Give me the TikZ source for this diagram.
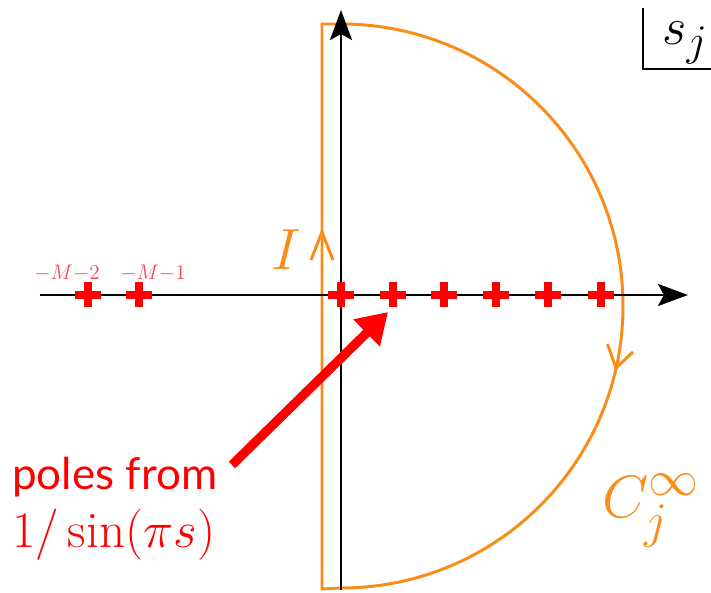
\documentclass[tikz,border=0pt]{standalone}
\usepackage{amsmath,amssymb}
\usepackage{fontspec}
\newfontfamily\polesfont{Lato}
\usetikzlibrary{arrows.meta, positioning, calc}
\definecolor{contourorange}{RGB}{250,140,25}
\definecolor{polered}{RGB}{255,0,0}
\definecolor{polelabel}{RGB}{238,72,82}

\begin{document}
\begin{tikzpicture}[>={Stealth[length=0.6cm,width=0.44cm,inset=0.12cm]},
    axis/.style={line width=1.6pt},
    contourline/.style={contourorange, line width=1.7pt},
    pole/.style={polered, line width=4.4pt},
    polearrow/.style={polered, line width=5.2pt, -{Triangle[length=0.6cm,width=0.72cm]}},
    bigmath/.style={font=\fontsize{24.88}{30}\selectfont, scale=#1, transform shape}]
    \useasboundingbox (-6.82,-5.96) rectangle (7.40,5.90);
    % contour I + C_j^infty
    \draw[contourline] (-0.38,-5.88) -- (-0.38,5.42) -- (0,5.42) arc[start angle=90, end angle=-90, radius=5.64] -- cycle;
    \draw[contourline] (-0.60,0.70) -- (-0.38,1.26) -- (-0.16,0.70);
    \draw[contourline] (5.33,-0.98) -- (5.50,-1.46) -- (5.84,-1.14);
    % axes
    \draw[axis,->] (-6.02,0) -- (6.94,0);
    \draw[axis,->] (0,-5.9) -- (0,5.7);
    \draw[line width=1.1pt] (6.04,5.74) |- (7.5,4.52);
    \node[bigmath=1.2, anchor=base west, inner sep=0pt] (lblS) at (6.42,5.0) {$s_j$};
    % poles
    \foreach \x in {-5.06,-4.04,0,1.04,2.06,3.10,4.14,5.20}
        \draw[pole] (\x-0.26,0) -- (\x+0.26,0) (\x,-0.25) -- (\x,0.25);
    \coordinate (p1) at (1.04,0);
    \node[polelabel, font=\fontsize{12}{14}\selectfont] (lblMtwo) at (-5.48,0.44) {$-M{-}2$};
    \node[polelabel, font=\fontsize{12}{14}\selectfont] (lblMone) at (-3.76,0.44) {$-M{-}1$};
    \node[contourorange, bigmath=1.33] (lblI) at (-1.1,0.9) {$I$};
    \node[contourorange, bigmath=1.37, anchor=base west, inner sep=0pt] (lblC) at (5.22,-4.44) {$C_j^\infty$};
    % annotation
    \node[polered, font=\polesfont\fontsize{25}{30}\selectfont, anchor=base west, inner sep=0pt] (polestext) at (-6.58,-3.9) {poles from};
    \node[polered, bigmath=1.17, anchor=base west, inner sep=0pt] (sintext) at (-6.58,-5.06) {$1/\sin(\pi s)$};
    \coordinate (tail) at (-2.18,-3.4);
    \draw[polearrow] (tail) -- ([shift={(-0.1,-0.34)}]p1);
\end{tikzpicture}
\end{document}
